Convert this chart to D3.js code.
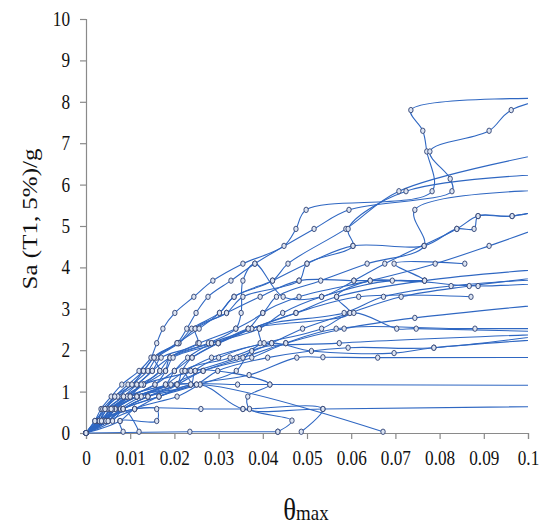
<!DOCTYPE html>
<html>
<head>
<meta charset="utf-8">
<script src="https://cdn.jsdelivr.net/npm/d3@7"></script>
<style>
  body { margin: 0; background: #fff; }
</style>
</head>
<body>
<div id="chart"></div>
<script>
// tick values
const xTicks = [0, 0.01, 0.02, 0.03, 0.04, 0.05, 0.06, 0.07, 0.08, 0.09, 0.1];
const yTicks = [0, 1, 2, 3, 4, 5, 6, 7, 8, 9, 10];

// IDA records: [theta_max, Sa/g]
const rec01 = [[0,0],[0.002,0.29],[0.0034,0.58],[0.0057,0.88],[0.0081,1.17],[0.012,1.5],[0.0147,1.82],[0.016,2.17],[0.0174,2.52],[0.0201,2.9],[0.0244,3.29],[0.0287,3.68],[0.0355,4.09],[0.0448,4.52],[0.0475,4.93],[0.0498,5.39],[0.0783,5.84],[0.0771,6.8],[0.0762,7.3],[0.0735,7.8],[0.11,8.08]];
const rec02 = [[0,0],[0.0025,0.29],[0.0038,0.58],[0.0065,0.88],[0.0095,1.17],[0.013,1.5],[0.0154,1.82],[0.0206,2.17],[0.0228,2.52],[0.0249,2.9],[0.0276,3.29],[0.0328,3.68],[0.0382,4.09],[0.0516,4.93],[0.0595,5.39],[0.0828,5.84],[0.0824,6.14],[0.0778,6.8],[0.0912,7.3],[0.0962,7.8],[0.12,8.42]];
const rec03 = [[0,0],[0.003,0.29],[0.0043,0.58],[0.0072,0.88],[0.0104,1.17],[0.014,1.5],[0.016,1.82],[0.021,2.17],[0.0239,2.52],[0.0302,2.9],[0.0335,3.29],[0.0422,3.68],[0.0457,4.09],[0.0588,4.93],[0.0708,5.84],[0.106,6.8]];
const rec04 = [[0,0],[0.003,0.29],[0.0048,0.58],[0.0085,0.88],[0.0115,1.17],[0.015,1.5],[0.017,1.82],[0.0253,2.17],[0.0247,2.52],[0.0318,2.9],[0.0355,3.29],[0.0482,3.68],[0.05,4.09],[0.0604,4.52],[0.0593,4.93],[0.0724,5.84],[0.115,6.3]];
const rec05 = [[0,0],[0.0035,0.29],[0.0054,0.58],[0.0093,0.88],[0.013,1.17],[0.0167,1.5],[0.019,1.82],[0.0256,2.17],[0.0339,2.52],[0.04,2.9],[0.0431,3.29],[0.0531,3.68],[0.0636,4.09],[0.0765,4.52],[0.0744,5.39],[0.12,5.9]];
const rec06 = [[0,0],[0.004,0.29],[0.006,0.58],[0.01,0.88],[0.0156,1.17],[0.018,1.5],[0.019,1.82],[0.0277,2.17],[0.0339,2.52],[0.0351,2.9],[0.0355,3.68],[0.0382,4.09],[0.0446,3.29],[0.0533,3.29],[0.0606,3.68],[0.0676,4.09],[0.0839,4.93],[0.0887,5.24],[0.0964,5.24],[0.12,5.84]];
const rec07 = [[0,0],[0.0045,0.29],[0.0066,0.58],[0.0115,0.88],[0.018,1.17],[0.02,1.5],[0.023,1.82],[0.0284,2.17],[0.0367,2.52],[0.04,2.9],[0.0482,3.29],[0.0643,3.68],[0.079,4.09],[0.0912,4.52],[0.102,4.93]];
const rec08 = [[0,0],[0.005,0.29],[0.0084,0.58],[0.014,0.88],[0.0206,1.17],[0.0217,1.5],[0.024,1.82],[0.0299,2.17],[0.0375,2.52],[0.0475,2.9],[0.0567,3.29],[0.0766,3.68],[0.12,4.09]];
const rec09 = [[0,0],[0.004,0.29],[0.0065,0.58],[0.01,0.88],[0.0237,1.17],[0.0224,1.5],[0.0326,1.82],[0.0394,2.17],[0.0392,2.52],[0.0584,2.9],[0.0673,3.29],[0.0826,3.55],[0.12,3.8]];
const rec10 = [[0,0],[0.0045,0.29],[0.006,0.58],[0.0093,0.88],[0.013,1.17],[0.0247,1.5],[0.0341,1.82],[0.042,2.17],[0.049,2.52],[0.0597,2.9],[0.0713,3.29],[0.0867,3.55],[0.14,4.2]];
const rec11 = [[0,0],[0.005,0.29],[0.0078,0.58],[0.0125,0.88],[0.0192,1.17],[0.0265,1.5],[0.0355,1.82],[0.0452,2.17],[0.0584,2.52],[0.0744,2.78],[0.15,3.55]];
const rec12 = [[0,0],[0.006,0.29],[0.0084,0.58],[0.014,0.88],[0.0206,1.17],[0.0265,1.5],[0.0375,1.82],[0.0452,2.17],[0.0566,2.52],[0.088,2.52],[0.2,2.52]];
const rec13 = [[0,0],[0.005,0.29],[0.011,0.58],[0.0165,0.88],[0.025,1.17],[0.0298,1.5],[0.0411,1.82],[0.0593,2.06],[0.0787,2.06],[0.14,2.9]];
const rec14 = [[0,0],[0.0077,0.29],[0.011,0.58],[0.0206,0.88],[0.0258,1.17],[0.034,1.5],[0.0375,1.98],[0.0573,2.17],[0.2,2.72]];
const rec15 = [[0,0],[0.004,0.29],[0.0084,0.58],[0.0165,0.88],[0.0237,1.17],[0.0369,1.4],[0.0477,1.82],[0.0536,1.83],[0.066,1.82],[0.2,1.84]];
const rec16 = [[0,0],[0.0045,0.29],[0.0066,0.58],[0.0115,0.88],[0.0206,1.17],[0.0343,1.17],[0.0416,1.17],[0.2,1.12]];
const rec17 = [[0,0],[0.003,0.29],[0.006,0.58],[0.0093,0.88],[0.0258,1.17],[0.0355,0.58],[0.0536,0.58],[0.2,0.77]];
const rec18 = [[0,0],[0.005,0.29],[0.0084,0.58],[0.0165,0.88],[0.025,1.17],[0.0672,0.03]];
const rec19 = [[0,0],[0.0035,0.29],[0.0066,0.58],[0.0115,0.88],[0.0206,1.17],[0.0237,1.5],[0.0416,1.17],[0.0366,0.88],[0.037,0.58],[0.0466,0.3],[0.0434,0.03]];
const rec20 = [[0,0],[0.0035,0.29],[0.011,0.58],[0.026,0.58],[0.0355,0.58],[0.0536,0.58],[0.0487,0.03]];
const rec21 = [[0,0],[0.0235,0.03],[0.0434,0.03]];
const rec22 = [[0,0],[0.0025,0.29],[0.011,0.58],[0.016,0.58],[0.016,0.29],[0.0077,0.29],[0.0084,0.03]];
const rec23 = [[0,0],[0.003,0.29],[0.0084,0.58],[0.012,0.03]];
const rec24 = [[0,0],[0.0025,0.29],[0.0043,0.58],[0.0072,0.88],[0.0115,1.17],[0.015,1.5],[0.019,1.82],[0.0284,2.17],[0.0392,2.52],[0.0445,2.9],[0.0533,3.29],[0.0693,3.68],[0.0887,3.55],[0.14,3.9]];
const rec25 = [[0,0],[0.003,0.29],[0.0048,0.58],[0.0085,0.88],[0.013,1.17],[0.018,1.5],[0.0197,1.82],[0.03,2.17],[0.0375,2.52],[0.0475,2.9],[0.0617,3.29],[0.0871,3.29]];
const rec26 = [[0,0],[0.004,0.29],[0.0054,0.58],[0.01,0.88],[0.0156,1.17],[0.02,1.5],[0.024,1.82],[0.0299,2.17],[0.0367,2.52],[0.0597,2.9],[0.0567,3.29],[0.0643,3.68],[0.0766,3.68],[0.0697,4.09],[0.0857,4.09]];
const rec27 = [[0,0],[0.0045,0.29],[0.006,0.58],[0.0115,0.88],[0.018,1.17],[0.0224,1.5],[0.0284,1.82],[0.0403,2.17],[0.0533,2.52],[0.0606,2.9],[0.0703,2.52],[0.0747,2.52],[0.2,2.2]];
const rec28 = [[0,0],[0.005,0.29],[0.0084,0.58],[0.014,0.88],[0.0237,1.17],[0.0247,1.5],[0.03,1.82],[0.042,2.17],[0.051,1.98],[0.0697,1.93],[0.0787,2.06],[0.2,2.9]];
const rec29 = [[0,0],[0.0035,0.29],[0.0057,0.58],[0.01,0.88],[0.0125,1.17],[0.0167,1.5],[0.0154,1.82],[0.021,2.17],[0.0247,2.52],[0.0318,2.9],[0.0394,3.29],[0.0482,3.68],[0.0606,3.68],[0.0766,3.68]];
const rec30 = [[0,0],[0.002,0.29],[0.0043,0.58],[0.0065,0.88],[0.0104,1.17],[0.013,1.5],[0.0154,1.82],[0.0206,2.17],[0.0256,2.52],[0.0302,2.9],[0.0335,3.29],[0.0422,3.68],[0.05,4.09],[0.0604,4.52],[0.0765,4.52],[0.0839,4.93],[0.0878,4.93],[0.0887,5.24],[0.0964,5.24],[0.12,5.84]];

const records = [rec01, rec02, rec03, rec04, rec05, rec06, rec07, rec08, rec09, rec10,
  rec11, rec12, rec13, rec14, rec15, rec16, rec17, rec18, rec19, rec20,
  rec21, rec22, rec23, rec24, rec25, rec26, rec27, rec28, rec29, rec30];

const W = 539, H = 529;
const margin = { top: 19, right: 11, bottom: 96, left: 86 };
const width = W - margin.left - margin.right;
const height = H - margin.top - margin.bottom;
const squeeze = 0.86; // text in the picture is narrowed
const serif = '"Liberation Serif", "Times New Roman", Times, serif';

const svg = d3.select("#chart").append("svg")
  .attr("width", W)
  .attr("height", H)
  .attr("font-family", serif);

const g = svg.append("g")
  .attr("transform", `translate(${margin.left},${margin.top})`);

const x = d3.scaleLinear().domain([0, 0.1]).range([0, width]);
const y = d3.scaleLinear().domain([0, 10]).range([height, 0]);

svg.append("defs").append("clipPath").attr("id", "plot-clip")
  .append("rect")
  .attr("x", -10).attr("y", -10)
  .attr("width", width + 10).attr("height", height + 20);

// axes
const xAxis = g.append("g")
  .attr("transform", `translate(0,${height})`)
  .call(d3.axisBottom(x).tickValues(xTicks).tickSize(6).tickPadding(12).tickFormat(d => String(d)));

const yAxis = g.append("g")
  .call(d3.axisLeft(y).tickValues(yTicks).tickSize(6));

[xAxis, yAxis].forEach(ax => {
  ax.attr("font-family", serif).attr("font-size", 20);
  ax.select(".domain").attr("stroke", "#8a8a8a").attr("stroke-width", 1.2);
  ax.selectAll(".tick line").attr("stroke", "#8a8a8a").attr("stroke-width", 1.2);
  ax.selectAll("text").attr("fill", "#111");
});

xAxis.selectAll("text").attr("transform", `scale(${squeeze},1)`);
yAxis.selectAll("text")
  .attr("x", -16 / squeeze)
  .attr("transform", `scale(${squeeze},1)`);

// curves
const line = d3.line()
  .x(d => x(d[0]))
  .y(d => y(d[1]))
  .curve(d3.curveCatmullRom.alpha(0.5));

const plot = g.append("g").attr("clip-path", "url(#plot-clip)");

plot.selectAll("path.rec")
  .data(records)
  .enter()
  .append("path")
  .attr("class", "rec")
  .attr("fill", "none")
  .attr("stroke", "#2f67c2")
  .attr("stroke-width", 1.1)
  .attr("d", line);

plot.selectAll("g.marks")
  .data(records)
  .enter()
  .append("g")
  .attr("class", "marks")
  .selectAll("ellipse")
  .data(d => d.filter(p => p[0] <= 0.1))
  .enter()
  .append("ellipse")
  .attr("cx", d => x(d[0]))
  .attr("cy", d => y(d[1]))
  .attr("rx", 2.2)
  .attr("ry", 2.7)
  .attr("fill", "#dce4f2")
  .attr("stroke", "#2c3f72")
  .attr("stroke-width", 0.9);

// axis titles
svg.append("text")
  .attr("transform", `translate(37,219) rotate(-90) scale(1,${squeeze})`)
  .attr("text-anchor", "middle")
  .attr("font-size", 25)
  .attr("fill", "#111")
  .text("Sa (T1, 5%)/g");

const xTitle = svg.append("text")
  .attr("transform", `translate(${margin.left + width / 2 - 1},520) scale(${squeeze},1)`)
  .attr("text-anchor", "middle")
  .attr("fill", "#111");
xTitle.append("tspan").attr("font-size", 31).text("θ");
xTitle.append("tspan").attr("font-size", 22).text("max");
</script>
</body>
</html>
